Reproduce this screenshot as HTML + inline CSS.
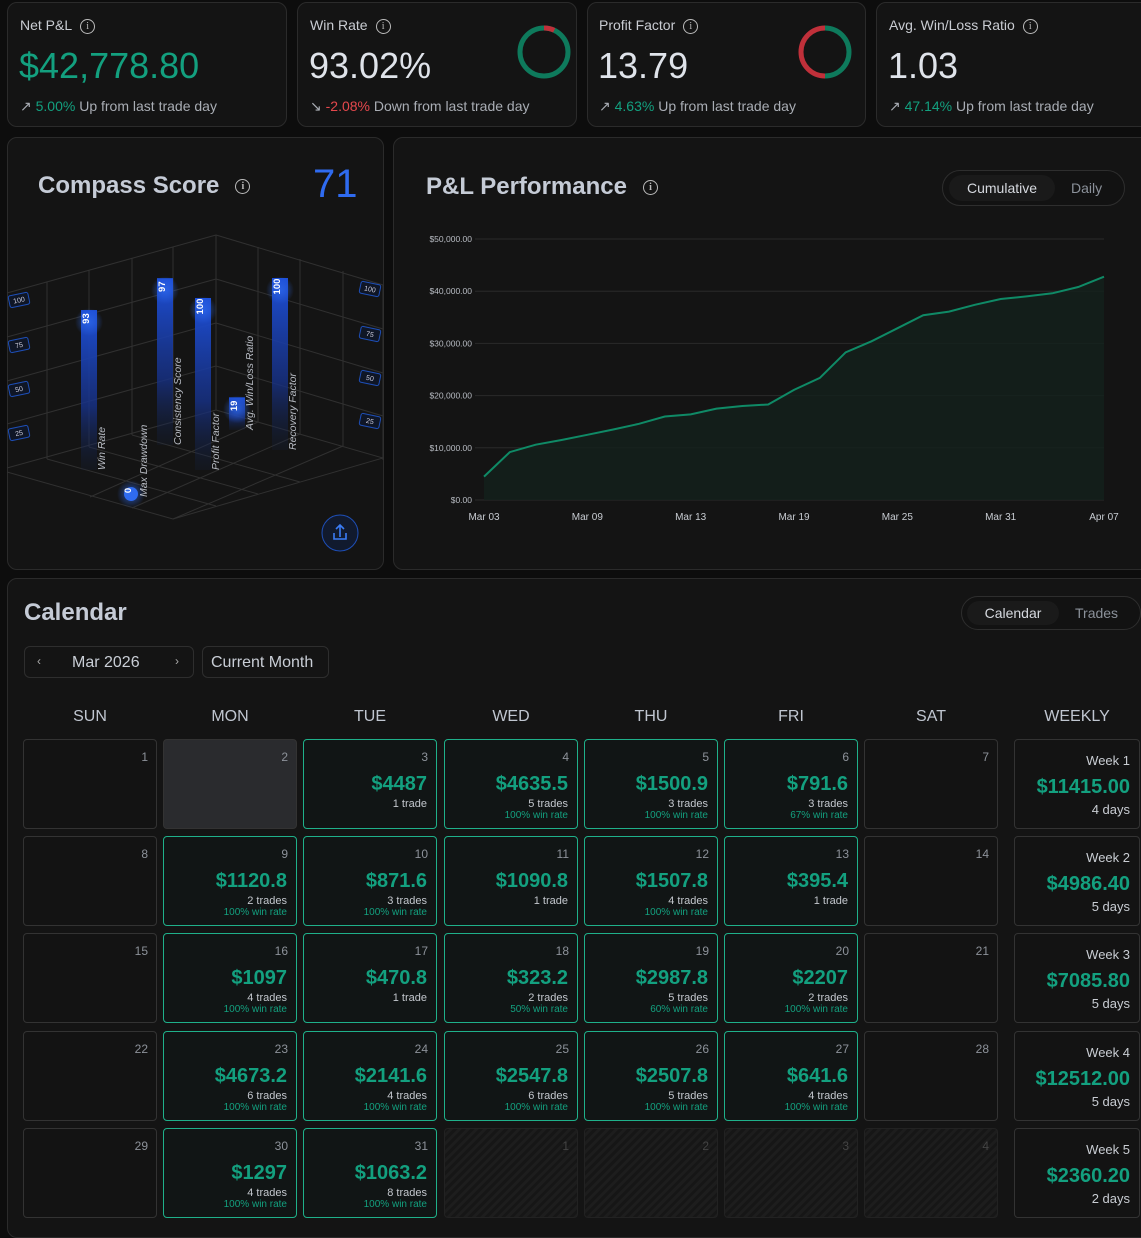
<!DOCTYPE html>
<html><head><meta charset="utf-8">
<style>
*{box-sizing:border-box;margin:0;padding:0}
body{width:1141px;height:1216px;overflow:hidden;background:#0d0d0d;font-family:"Liberation Sans",sans-serif;color:#d6d9df;position:relative}
.card{position:absolute;background:#141414;border:1px solid #2b2b2b;border-radius:10px}
.abs{position:absolute;white-space:nowrap}
.t{font-size:14px;color:#c9ccd2}
.big{font-size:36px;color:#dfe3ea}
.foot{font-size:14px;color:#a9adb4}
.g{color:#13a07f}.r{color:#e5484d}
.info{display:inline-block;width:15px;height:15px;border:1.3px solid #bbb;border-radius:50%;font-size:10px;line-height:13px;text-align:center;color:#bbb;vertical-align:middle;margin-left:8px;font-family:"Liberation Serif",serif}
.seg{position:absolute;border:1px solid #2e2e2e;border-radius:18px;background:#121212}
.seg .on{position:absolute;background:#1a1a1a;border-radius:14px;color:#d6d9df;font-size:14px;text-align:center}
.seg .off{position:absolute;color:#8b919a;font-size:14px}
.hd{position:absolute;top:708px;font-size:16px;color:#c0c6d0;text-align:center;width:134px}
.cell{position:absolute;width:134px;height:90px;border:1px solid #333;border-radius:4px;background:#131313}
.cell.win{border-color:#1fb08a;background:#111515}
.cell .d{position:absolute;right:8px;top:10px;font-size:12px;color:#8d929a}
.cell .amt{position:absolute;right:9px;top:33px;font-size:20px;font-weight:bold;color:#13a07f}
.cell .tr{position:absolute;right:9px;top:58px;font-size:11px;color:#c3c7cd}
.cell .wr{position:absolute;right:9px;top:70px;font-size:10px;color:#13a07f}
</style></head><body>

<!-- top cards -->
<div class="card" style="left:7px;top:2px;width:280px;height:125px">
 <div class="abs t" style="left:12px;top:14px">Net P&amp;L<span class="info">i</span></div>
 <div class="abs big" style="left:11px;top:42px;color:#13a07f">$42,778.80</div>
 <div class="abs foot" style="left:12px;top:95px">↗ <span class="g">5.00%</span> Up from last trade day</div>
</div>
<div class="card" style="left:297px;top:2px;width:280px;height:125px">
 <div class="abs t" style="left:12px;top:14px">Win Rate<span class="info">i</span></div>
 <div class="abs big" style="left:11px;top:42px">93.02%</div>
 <div class="abs foot" style="left:12px;top:95px">↘ <span class="r">-2.08%</span> Down from last trade day</div>
 <svg class="abs" style="left:210px;top:20px" width="70" height="62">
  <circle cx="36" cy="29" r="24" fill="none" stroke="#0e7a5c" stroke-width="5"/>
  <path d="M36 5 A24 24 0 0 1 46.2 7.3" fill="none" stroke="#c0303a" stroke-width="5"/>
 </svg>
</div>
<div class="card" style="left:587px;top:2px;width:279px;height:125px">
 <div class="abs t" style="left:11px;top:14px">Profit Factor<span class="info">i</span></div>
 <div class="abs big" style="left:10px;top:42px">13.79</div>
 <div class="abs foot" style="left:11px;top:95px">↗ <span class="g">4.63%</span> Up from last trade day</div>
 <svg class="abs" style="left:200px;top:20px" width="70" height="62">
  <path d="M37 5 A24 24 0 0 1 37 53" fill="none" stroke="#0e7a5c" stroke-width="5"/>
  <path d="M37 53 A24 24 0 0 1 37 5" fill="none" stroke="#c0303a" stroke-width="5"/>
 </svg>
</div>
<div class="card" style="left:876px;top:2px;width:280px;height:125px">
 <div class="abs t" style="left:12px;top:14px">Avg. Win/Loss Ratio<span class="info">i</span></div>
 <div class="abs big" style="left:11px;top:42px">1.03</div>
 <div class="abs foot" style="left:12px;top:95px">↗ <span class="g">47.14%</span> Up from last trade day</div>
</div>

<!-- compass -->
<div class="card" style="left:7px;top:137px;width:377px;height:433px">
 <div class="abs" style="left:30px;top:34px;font-size:24px;font-weight:bold;color:#c5cbd6">Compass Score<span class="info" style="margin-left:16px">i</span></div>
 <div class="abs" style="left:305px;top:24px;font-size:40px;color:#2f6bf0">71</div>
</div>
<svg class="abs" style="left:0;top:0" width="390" height="570" id="compass">
 <defs>
  <linearGradient id="bg" x1="0" y1="0" x2="0" y2="1"><stop offset="0" stop-color="#1d4fd8"/><stop offset="0.6" stop-color="#17328a" stop-opacity="0.8"/><stop offset="1" stop-color="#14213f" stop-opacity="0.2"/></linearGradient>
  <radialGradient id="glow"><stop offset="0" stop-color="#2f6bf0" stop-opacity="0.7"/><stop offset="1" stop-color="#2f6bf0" stop-opacity="0"/></radialGradient>
 </defs>
 <g id="grid" stroke="#303030" stroke-width="1" fill="none"></g>
 <g id="bars"></g>
 <circle cx="340" cy="533" r="18" fill="#111a2e" stroke="#1e4fb8"/>
 <path d="M334 533 v6 h12 v-6 M340 537 v-11 M336 529 l4-4 4 4" stroke="#3b7cf5" stroke-width="1.6" fill="none"/>
</svg>

<!-- P&L -->
<div class="card" style="left:393px;top:137px;width:760px;height:433px">
 <div class="abs" style="left:32px;top:35px;font-size:24px;font-weight:bold;color:#c5cbd6">P&amp;L Performance<span class="info" style="margin-left:16px">i</span></div>
 <div class="seg" style="left:548px;top:32px;width:183px;height:36px">
  <div class="on" style="left:6px;top:4px;width:106px;height:26px;line-height:26px">Cumulative</div>
  <div class="off" style="left:128px;top:9px">Daily</div>
 </div>
</div>
<svg class="abs" style="left:0;top:0" width="1141" height="570" id="pnl"></svg>

<!-- Calendar -->
<div class="card" style="left:7px;top:578px;width:1160px;height:660px">
 <div class="abs" style="left:16px;top:20px;font-size:24px;font-weight:bold;color:#c5cbd6">Calendar</div>
 <div class="seg" style="left:953px;top:17px;width:180px;height:34px">
  <div class="on" style="left:5px;top:4px;width:92px;height:24px;line-height:24px">Calendar</div>
  <div class="off" style="left:113px;top:8px">Trades</div>
 </div>
 <div class="abs" style="left:16px;top:67px;width:170px;height:32px;border:1px solid #2e2e2e;border-radius:6px">
  <span class="abs" style="left:12px;top:7px;font-size:12px;color:#aaa">‹</span>
  <span class="abs" style="left:47px;top:7px;font-size:16px;color:#c9ced6">Mar 2026</span>
  <span class="abs" style="left:150px;top:7px;font-size:12px;color:#aaa">›</span>
 </div>
 <div class="abs" style="left:194px;top:67px;width:127px;height:32px;border:1px solid #2e2e2e;border-radius:6px;font-size:16px;color:#c9ced6;padding:7px 0 0 8px">Current Month</div>
</div>
<div id="cal"></div>

<script>
// ---------- P&L chart data ----------
const pnlDates=["Mar 03","Mar 04","Mar 05","Mar 06","Mar 09","Mar 10","Mar 11","Mar 12","Mar 13","Mar 16","Mar 17","Mar 18","Mar 19","Mar 20","Mar 23","Mar 24","Mar 25","Mar 26","Mar 27","Mar 30","Mar 31","Apr 01","Apr 02","Apr 06","Apr 07"];
const pnlValues=[4487,9170,10600,11500,12500,13500,14600,16000,16400,17500,18000,18300,21100,23400,28300,30400,32900,35400,36100,37400,38500,39000,39600,40800,42780];
const pnlTicks=[0,10000,20000,30000,40000,50000];
const pnlTickLabels=["$0.00","$10,000.00","$20,000.00","$30,000.00","$40,000.00","$50,000.00"];
const pnlXLabelIdx=[0,4,8,12,16,20,24];
const NS="http://www.w3.org/2000/svg";
function mk(tag,attrs,parent){const e=document.createElementNS(NS,tag);for(const k in attrs)e.setAttribute(k,attrs[k]);parent.appendChild(e);return e;}
const px=i=>484+i*(1104-484)/(pnlDates.length-1);
const py=v=>500-v*(500-239)/50000;
const pnl=document.getElementById('pnl');
pnlTicks.forEach((t,i)=>{
 const l=mk('line',{x1:475,x2:1104,y1:py(t),y2:py(t),stroke:'#2a2a2a'},pnl);
 
 
 const tx=mk('text',{x:472,y:py(t)+3,'text-anchor':'end','font-size':8.5,fill:'#b8bcc3'},pnl);tx.textContent=pnlTickLabels[i];
 
 
});
pnlXLabelIdx.forEach(i=>{
 const tx=mk('text',{x:px(i),y:520,'text-anchor':'middle','font-size':10,fill:'#c8ccd2'},pnl);tx.textContent=pnlDates[i];
 
 
});
let d=pnlValues.map((v,i)=>(i?'L':'M')+px(i).toFixed(1)+' '+py(v).toFixed(1)).join(' ');
const area=mk('path',{d:d+` L${px(pnlValues.length-1)} 500 L${px(0)} 500 Z`,fill:'#13201c',opacity:0.8},pnl);


const line=mk('path',{d:d,fill:'none',stroke:'#0f8a66','stroke-width':2},pnl);



// ---------- Compass chart data ----------
const compassLabels=["Win Rate","Max Drawdown","Consistency Score","Profit Factor","Avg. Win/Loss Ratio","Recovery Factor"];
const compassValues=[93,0,97,100,19,100];
const compassTickLabels=["100","75","50","25"];
const cg=document.getElementById('grid'), cb=document.getElementById('bars');
const gl=[[216,235,216,410],[216,235,7,293],[216,235,383,285],[7,468,216,410],[216,410,383,458],[7,472,173,519],[173,519,383,458],
[47,282,47,459],[89,270,89,447],[132,258,132,435],[173,247,173,423],[258,247,258,422],[300,259,300,434],[343,271,343,446],[383,285,383,460],
[7,337,216,279],[7,381,216,323],[7,424,216,366],[216,279,383,329],[216,323,383,373],[216,366,383,416],
[47,459,216,506],[89,447,258,494],[132,435,300,482],[258,422,90,497],[300,434,132,508],[343,446,173,519]];
gl.forEach(g=>{const l=mk('line',{x1:g[0],y1:g[1],x2:g[2],y2:g[3]},cg);
 
 });
const barX=[89,131,165,203,237,280];
const barBase=[470,494,445,470,430,450];
const unit=1.72;
compassValues.forEach((v,i)=>{
 const top=barBase[i]-v*unit;
 if(v>0){const r=mk('rect',{x:barX[i]-8,y:top,width:16,height:barBase[i]-top,fill:'url(#bg)'},cb);
  
  }
 mk('circle',{cx:barX[i],cy:(v===0?top:top+12),r:14,fill:'url(#glow)'},cb);
 if(v===0){mk('circle',{cx:barX[i],cy:top,r:7,fill:'#2f6bf0'},cb);}
 const t=mk('text',{x:barX[i]+3.5,y:(v===0?top:top+12),'font-size':9.5,'font-weight':'bold',fill:'#fff','text-anchor':'middle',transform:`rotate(-90 ${barX[i]} ${v===0?top:top+12})`},cb);t.textContent=v;
 
 
 const lx=barX[i]+16, ly=barBase[i]+(v===0?3:0);
 const lb=mk('text',{x:lx,y:ly,'font-size':10.5,'font-style':'italic',fill:'#b8bcc4',transform:`rotate(-90 ${lx} ${ly})`},cb);lb.textContent=compassLabels[i];
 
 
});
const tickLY=[300,345,389,433], tickRY=[289,334,378,421];
compassTickLabels.forEach((s,i)=>{
 [[19,tickLY[i],-12],[370,tickRY[i],12]].forEach(p=>{
  const g=mk('g',{transform:`translate(${p[0]} ${p[1]}) rotate(${p[2]})`},cb);
  mk('rect',{x:-10,y:-6,width:20,height:12,rx:2,fill:'#0f1626',stroke:'#1e4fb8'},g);
  const t=mk('text',{x:0,y:2.5,'font-size':7,fill:'#ccd','text-anchor':'middle'},g);t.textContent=s;
  
  
 });
});

// ---------- Calendar data ----------
const dayHeaders=["SUN","MON","TUE","WED","THU","FRI","SAT","WEEKLY"];
const calDays=[1,2,3,4,5,6,7,8,9,10,11,12,13,14,15,16,17,18,19,20,21,22,23,24,25,26,27,28,29,30,31,1,2,3,4];
const calPnl=[null,null,4487,4635.5,1500.9,791.6,null,null,1120.8,871.6,1090.8,1507.8,395.4,null,null,1097,470.8,323.2,2987.8,2207,null,null,4673.2,2141.6,2547.8,2507.8,641.6,null,null,1297,1063.2,null,null,null,null];
const calTrades=[0,0,1,5,3,3,0,0,2,3,1,4,1,0,0,4,1,2,5,2,0,0,6,4,6,5,4,0,0,4,8,0,0,0,0];
const calWinRate=[0,0,100,100,100,67,0,0,100,100,100,100,100,0,0,100,100,50,60,100,0,0,100,100,100,100,100,0,0,100,100,0,0,0,0];
const weekTotals=[11415.00,4986.40,7085.80,12512.00,2360.20];
const weekDays=[4,5,5,5,2];
const cal=document.getElementById('cal');
const colX=[23,163,303,444,584,724,864,1010];
const rowY=[739,836,933,1031,1128];
dayHeaders.forEach((h,i)=>{const e=document.createElement('div');e.className='hd';e.style.left=(colX[i])+'px';e.textContent=h;
 
 
 cal.appendChild(e);});
calDays.forEach((dn,i)=>{
 const r=Math.floor(i/7),c=i%7;
 const e=document.createElement('div');e.className='cell';
 e.style.left=colX[c]+'px';e.style.top=rowY[r]+'px';
 const next=i>=31;
 if(calPnl[i]!==null)e.classList.add('win');
 if(i===1){e.style.background='#2a2b2e';}
 if(next){e.style.background='repeating-linear-gradient(135deg,#161616 0 3px,#1d1d1d 3px 6px)';e.style.borderColor='#222';}
 let h=`<span class="d"${next?' style="color:#444"':''}>${dn}</span>`;
 if(calPnl[i]!==null){
  h+=`<span class="amt">$${calPnl[i]}</span><span class="tr">${calTrades[i]} trade${calTrades[i]>1?'s':''}</span>`;
  if(calTrades[i]>1)h+=`<span class="wr">${calWinRate[i]}% win rate</span>`;
 }
 e.innerHTML=h;
 
 
 cal.appendChild(e);
});
weekTotals.forEach((w,r)=>{
 const e=document.createElement('div');e.className='cell';
 e.style.left='1014px';e.style.top=rowY[r]+'px';e.style.width='126px';e.style.borderRadius='4px';
 e.innerHTML=`<span class="abs" style="right:9px;top:13px;font-size:13px;color:#c9cdd3">Week ${r+1}</span><span class="abs" style="right:9px;top:36px;font-size:20px;font-weight:bold;color:#13a07f">$${w.toFixed(2)}</span><span class="abs" style="right:9px;top:62px;font-size:13px;color:#c9cdd3">${weekDays[r]} days</span>`;
 
 
 cal.appendChild(e);
});
</script>
</body></html>
